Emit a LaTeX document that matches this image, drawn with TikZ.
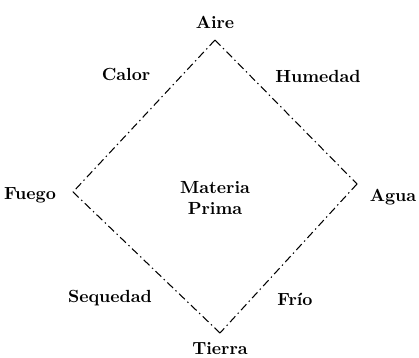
\documentclass[tikz,border=0pt]{standalone}
\usetikzlibrary{positioning}

\begin{document}
\begin{tikzpicture}[
    x=0.02cm, y=-0.02cm,
    font=\bfseries,
    elem/.style={inner sep=1pt},
    lado/.style={line width=0.6pt, dash pattern=on 4.5pt off 2pt on 0.8pt off 2pt}
]
    % lienzo fijo: 419 x 358
    \path[use as bounding box] (0, 0) rectangle (419, 358);

    % ==========================================
    % Esquinas del rombo
    % ==========================================
    \coordinate (top) at (215, 40);
    \coordinate (lft) at (73, 192);
    \coordinate (rgt) at (357, 184);
    \coordinate (bot) at (220, 333);

    % ==========================================
    % Elementos y cualidades
    % ==========================================
    \node[elem] (aire)   at (215, 22)  {Aire};
    \node[elem] (fuego)  at (30, 195)  {Fuego};
    \node[elem] (agua)   at (393, 197) {Agua};
    \node[elem] (tierra) at (220, 349) {Tierra};

    \node[elem] (calor)    at (126, 74)  {Calor};
    \node[elem] (humedad)  at (318, 76)  {Humedad};
    \node[elem] (sequedad) at (110, 298) {Sequedad};
    \node[elem] (frio)     at (295, 299) {Frío};

    \node[elem, align=center] (materia) at (215, 198) {Materia\\Prima};

    % ==========================================
    % Lados (trazo-punto)
    % ==========================================
    \draw[lado] (top) -- (lft);
    \draw[lado] (top) -- (rgt);
    \draw[lado] (lft) -- (bot);
    \draw[lado] (rgt) -- (bot);

\end{tikzpicture}
\end{document}
